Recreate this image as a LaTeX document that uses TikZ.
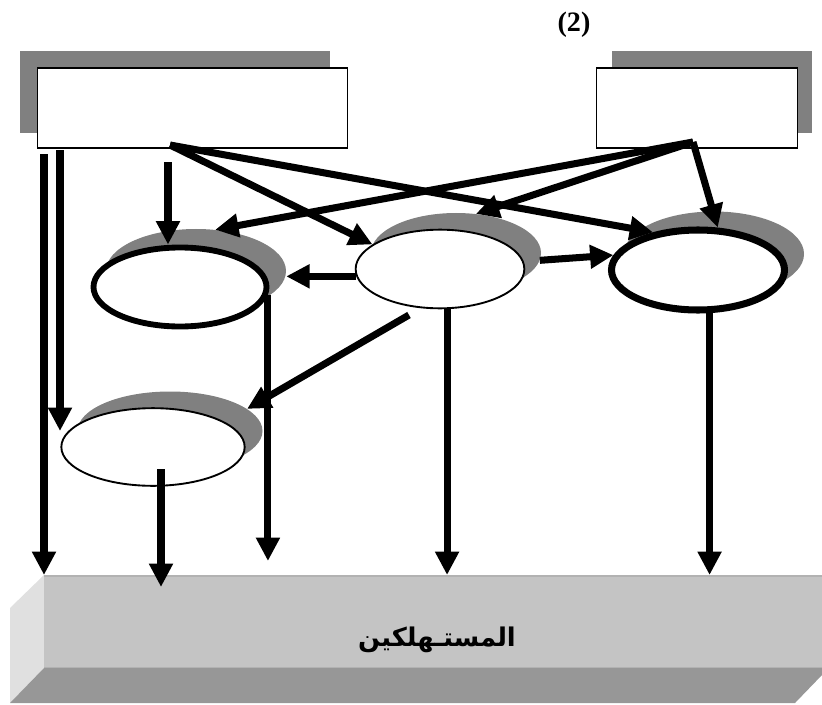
\documentclass[tikz,border=0pt]{standalone}
\usepackage{fontspec}
\usepackage{xcolor}
\usetikzlibrary{shapes.geometric,arrows.meta}
\newfontfamily\arabicfont[Script=Arabic]{DejaVu Sans}
\newfontfamily\titlefont{Liberation Serif}
\TeXXeTstate=1
\definecolor{shadegray}{HTML}{808080}
\definecolor{slabfront}{HTML}{C4C4C4}
\definecolor{slabedge}{HTML}{B2B2B2}
\definecolor{slabside}{HTML}{E0E0E0}
\definecolor{slabbase}{HTML}{979797}
\tikzset{
  sbox/.style={rectangle, draw=black, line width=1.5pt, fill=white, minimum height=2.4cm, inner sep=0pt},
  sboxshade/.style={rectangle, fill=shadegray, minimum height=2.43cm, inner sep=0pt},
  oval/.style={ellipse, draw=black, fill=white, inner sep=0pt},
  ovalthick/.style={oval, line width=5pt},
  ovalthin/.style={oval, line width=1.6pt},
  ovalshade/.style={ellipse, fill=shadegray, inner sep=0pt},
  flow/.style={line width=6pt, -{Triangle[length=0.7cm,width=0.68cm]}},
}

\begin{document}
\begin{tikzpicture}[x=0.03cm,y=-0.03cm]
        \useasboundingbox (0,0) rectangle (822,704);

        % Consumers slab
        \fill[slabside] (10,608) -- (44,575) -- (44,668) -- (10,703) -- cycle;
        \fill[slabbase] (10,703) -- (44,668) -- (822,668) -- (822,675) -- (795,703) -- cycle;
        \node[rectangle, fill=slabfront, inner sep=0pt, minimum width=23.34cm, minimum height=2.79cm, anchor=north west] (cons) at (44,575) {};
        \draw[slabedge, line width=1.6pt] ([yshift=-0.8pt]cons.north west) -- ([yshift=-0.8pt]cons.north east);
        \draw[slabedge, line width=1.6pt] ([yshift=0.8pt]cons.south west) -- ([yshift=0.8pt]cons.south east);
        \node[font=\arabicfont\bfseries\fontsize{22}{26}\selectfont] (consname) at (437,640) {\beginR المستـهلكين\endR};

        % Title
        \node[font=\titlefont\bfseries\fontsize{24}{28}\selectfont] (fignum) at (574,25) {(2)};

        % Sources
        \node[sboxshade, minimum width=9.3cm] (shl) at (175,92) {};
        \node[sbox, minimum width=9.3cm] (boxl) at (192.5,108) {};
        \node[sboxshade, minimum width=6cm] (shr) at (712,92) {};
        \node[sbox, minimum width=6.03cm] (boxr) at (697,108) {};

        % Channels
        \node[ovalshade, minimum width=5.4cm, minimum height=2.52cm] (s1) at (196,271) {};
        \node[ovalthick, minimum width=5.19cm, minimum height=2.37cm] (e1) at (180,287) {};
        \node[ovalshade, minimum width=5.1cm, minimum height=2.4cm] (s2) at (456,253) {};
        \node[ovalthin, minimum width=5.06cm, minimum height=2.36cm] (e2) at (440,269) {};
        \node[ovalshade, minimum width=5.4cm, minimum height=2.55cm] (s3) at (714,254) {};
        \node[ovalthick, line width=6pt, minimum width=5.19cm, minimum height=2.4cm] (e3) at (698,270) {};
        \node[ovalshade, minimum width=5.55cm, minimum height=2.37cm] (s4) at (170,431) {};
        \node[ovalthin, minimum width=5.5cm, minimum height=2.33cm] (e4) at (153,447) {};

        % Free ends
        \coordinate (srcl) at (170,145);
        \coordinate (srcr) at (693,142);
        \coordinate (la) at (44,154);
        \coordinate (lb) at (60,150);
        \coordinate (lc) at (168,162);
        \coordinate (e2out) at (409,315);
        \coordinate (e4out) at (161,469);

        % Flows from the sources
        \draw[flow] (la) -- (la |- cons.north);
        \draw[flow] (lb) -- (lb |- s4.west);
        \draw[flow] (lc) -- (lc |- e1.north);
        \draw[flow] (srcl) -- (e2.160);
        \draw[flow] (srcl) -- (e3.140);
        \draw[flow] (srcr) -- (s1.65);
        \draw[flow] (srcr) -- (s2.63);
        \draw[flow] (srcr) -- (e3.65);

        % Flows between channels
        \draw[flow] (e2.185) -- (e2.185 -| s1.east);
        \draw[flow] (s2.-5) -- (e3.170);
        \draw[flow] (e2out) -- (s4.16);

        % Flows to the consumers
        \draw[flow, shorten >=0.42cm] (e1.-5) -- (e1.-5 |- cons.north);
        \draw[flow] (e2.-80) -- (e2.-80 |- cons.north);
        \draw[flow] (e3.-75) -- (e3.-75 |- cons.north);
        \draw[flow, shorten >=-0.36cm] (e4out) -- (e4out |- cons.north);
    \end{tikzpicture}
\end{document}
